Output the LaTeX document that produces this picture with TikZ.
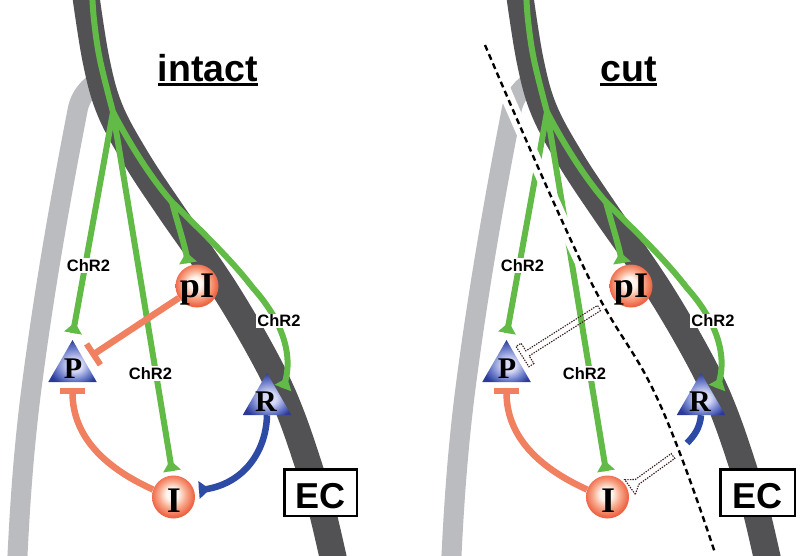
\documentclass[tikz,border=0pt]{standalone}
\usepackage{fontspec}
\setmainfont{Liberation Serif}
\newfontfamily\sansfam{Liberation Sans}
\usetikzlibrary{arrows.meta,shapes.geometric}
\definecolor{cgreen}{RGB}{98,187,70}
\definecolor{cdark}{RGB}{82,82,85}
\definecolor{cgray}{RGB}{187,188,192}
\definecolor{corange}{RGB}{240,128,96}
\definecolor{cblue}{RGB}{45,75,165}
\definecolor{cghost}{RGB}{60,30,30}
\definecolor{sphA}{RGB}{255,246,240}
\definecolor{sphB}{RGB}{247,168,138}
\definecolor{sphC}{RGB}{238,100,68}
\definecolor{triA}{RGB}{215,218,246}
\definecolor{triB}{RGB}{115,130,205}
\definecolor{triC}{RGB}{42,58,150}
\pgfdeclareradialshading{orangeball}{\pgfpoint{-2bp}{4bp}}{color(0bp)=(sphA); color(7bp)=(sphA); color(16bp)=(sphB); color(25bp)=(sphC); color(50bp)=(sphC)}
\pgfdeclareradialshading{bluetri}{\pgfpoint{3bp}{-6bp}}{color(0bp)=(triA); color(7bp)=(triA); color(18bp)=(triB); color(28bp)=(triC); color(50bp)=(triC)}
\newcommand{\ttlfnt}{\sansfam\bfseries\fontsize{37.5}{40}\selectfont}
\newcommand{\chrfnt}{\sansfam\bfseries\fontsize{16.5}{18}\selectfont}
\newcommand{\ecfnt}{\sansfam\bfseries\fontsize{36}{38}\selectfont}
\newcommand{\sphfnt}{\bfseries\fontsize{36}{38}\selectfont}
\newcommand{\trifnt}{\bfseries\fontsize{30}{32}\selectfont}
% flared synapse tip: flat side at the end point, narrowing back along the line
\newcommand{\tipmark}[3]{\begin{scope}[shift={(#1)},rotate=#2]\fill[#3] (0,9) -- (0,-9) -- (-11,0) -- cycle;\end{scope}}
\begin{document}
\begin{tikzpicture}[x=1pt,y=-1pt,
 darktract/.style={draw=cdark,line width=27pt},
 graytract/.style={draw=cgray,line width=20pt},
 gline/.style={draw=cgreen,line width=6pt},
 inh/.style={draw=corange,line width=6.5pt,-{Bar[width=25pt,line width=6pt]}},
 bline/.style={draw=cblue,line width=6.5pt},
 lab/.style={font=\chrfnt,fill=white,inner sep=1pt},
 sph/.style={circle,minimum size=43pt,inner sep=0pt,shade,shading=orangeball},
 tri/.style={regular polygon,regular polygon sides=3,minimum size=56pt,inner sep=0pt,shade,shading=bluetri},
 lett/.style={anchor=base,inner sep=0pt},
 ecbox/.style={draw=black,line width=2.5pt,fill=white,inner sep=0pt,minimum height=46.5pt},
 ghostline/.style={draw=cghost,line width=1.1pt,dash pattern=on 1.4pt off 1.2pt},
 ttl/.style={font=\ttlfnt,anchor=base,inner sep=0pt},
 ul/.style={line width=2.8pt},
 band/.style={draw=white,line width=13pt},
 cutline/.style={draw=black,line width=2.4pt,dash pattern=on 6pt off 4pt}
]
\useasboundingbox[fill=white] (0,0) rectangle (800,556);

% ================= LEFT PANEL: intact =================
\draw[graytract] (100,80) .. controls (88,87) and (81,96) .. (78,108) .. controls (66,170) and (45,280) .. (30,400) .. controls (24,450) and (20,500) .. (17,566);
\draw[darktract] plot[smooth,tension=0.6] coordinates {(85,-10) (96,60) (110,110) (137,160) (170,210) (198,250) (225,290) (252,335) (276,380) (293,420) (310,470) (322,510) (335,566)};

\coordinate (brA) at (113,112);
\coordinate (spA) at (172,202);
\coordinate (c1A) at (253,288);
\coordinate (tPA) at (73,333);
\coordinate (tIA) at (172,471);
\coordinate (tpIA) at (188,263);
\coordinate (tRA) at (283,388);
\draw[gline] plot[smooth,tension=0.6] coordinates {(92,-10) (94,20) (100,60) (113,112)};
\draw[gline] (brA) -- (tPA);
\draw[gline] (brA) -- (tIA);
\draw[gline] (spA) .. controls (178,225) and (185,245) .. (tpIA);
\draw[gline] (brA) .. controls (125,135) and (148,175) .. (spA) .. controls (200,230) and (230,258) .. (c1A) .. controls (280,318) and (296,355) .. (tRA);
\tipmark{tPA}{-100.3}{cgreen}
\tipmark{tIA}{-80.7}{cgreen}
\tipmark{tpIA}{-80.5}{cgreen}
\tipmark{tRA}{-111.5}{cgreen}

\node[sph] (pIA) at (197,286) {};
\node[sph] (IA) at (173.5,497) {};
\node[tri] (PA) at (72.5,368) {};
\node[tri] (RA) at (267,401) {};

\coordinate (barPA) at (91,356);
\coordinate (botPA) at (72.5,388);
\coordinate (arrIA) at (199,490);
\draw[inh] (pIA) -- (barPA);
\draw[inh] (IA.160) .. controls (110,470) and (72.5,440) .. (botPA);
\draw[bline] (RA.south) .. controls (266,455) and (240,487) .. (arrIA);
\tipmark{arrIA}{184.2}{cblue}

\node[lett,font=\sphfnt] (pItA) at (197,297.5) {pI};
\node[lett,font=\sphfnt] (ItA) at (174,512) {I};
\node[lett,font=\trifnt] (PtA) at (73,378) {P};
\node[lett,font=\trifnt] (RtA) at (266,411.5) {R};

\node[lab] (L1A) at (88.5,265.5) {ChR2};
\node[lab] (L2A) at (150.5,373.5) {ChR2};
\node[lab] (L3A) at (279,321) {ChR2};

\node[ecbox,minimum width=72.5pt] (ECA) at (320.5,492.5) {};
\node[lett,font=\ecfnt] (ECtA) at (320.5,508) {EC};

\node[ttl] (ttlA) at (208,82) {intact};
\coordinate (ulA) at (0,84.7);
\draw[ul] (ttlA.west |- ulA) -- (ttlA.east |- ulA);

% ================= RIGHT PANEL: cut =================
\begin{scope}[shift={(434,0)}]
\draw[graytract] (100,80) .. controls (88,87) and (81,96) .. (78,108) .. controls (66,170) and (45,280) .. (30,400) .. controls (24,450) and (20,500) .. (17,566);
\draw[darktract] plot[smooth,tension=0.6] coordinates {(85,-10) (96,60) (110,110) (137,160) (170,210) (198,250) (225,290) (252,335) (276,380) (293,420) (310,470) (322,510) (335,566)};

\coordinate (brB) at (113,112);
\coordinate (spB) at (172,202);
\coordinate (c1B) at (253,288);
\coordinate (tPB) at (73,333);
\coordinate (tIB) at (172,471);
\coordinate (tpIB) at (188,263);
\coordinate (tRB) at (283,388);
\draw[gline] plot[smooth,tension=0.6] coordinates {(92,-10) (94,20) (100,60) (113,112)};
\draw[gline] (brB) -- (tPB);
\draw[gline] (brB) -- (tIB);
\draw[gline] (spB) .. controls (178,225) and (185,245) .. (tpIB);
\draw[gline] (brB) .. controls (125,135) and (148,175) .. (spB) .. controls (200,230) and (230,258) .. (c1B) .. controls (280,318) and (296,355) .. (tRB);
\tipmark{tPB}{-100.3}{cgreen}
\tipmark{tIB}{-80.7}{cgreen}
\tipmark{tpIB}{-80.5}{cgreen}
\tipmark{tRB}{-111.5}{cgreen}

% the cut
\draw[band] plot[smooth,tension=0.7] coordinates {(51,45) (151,270) (224,400) (281,553)};
\draw[cutline] plot[smooth,tension=0.7] coordinates {(51,45) (151,270) (224,400) (281,553)};

\node[sph] (pIB) at (197,286) {};
\node[sph] (IB) at (173.5,497) {};
\node[tri] (PB) at (72.5,368) {};
\node[tri] (RB) at (267,401) {};

\coordinate (botPB) at (72.5,388);
\coordinate (bcutB) at (253,443);
\draw[inh] (IB.160) .. controls (110,470) and (72.5,440) .. (botPB);
\draw[bline] (RB.south) .. controls (266,428) and (260,436) .. (bcutB);

% lost connections (dotted outlines)
\begin{scope}[shift={(91,355)},rotate=32.4]
\path[ghostline] (87.7,3) -- (3,3) -- (3,12) -- (-3,12) -- (-3,-12) -- (3,-12) -- (3,-3) -- (87.7,-3) -- cycle;
\end{scope}
\begin{scope}[shift={(196,487)},rotate=35.8]
\path[ghostline] (0,9) -- (8.7,3) -- (53,3) -- (53,-3) -- (8.7,-3) -- (0,-9) -- cycle;
\end{scope}

\node[lett,font=\sphfnt] (pItB) at (197,297.5) {pI};
\node[lett,font=\sphfnt] (ItB) at (174,512) {I};
\node[lett,font=\trifnt] (PtB) at (73,378) {P};
\node[lett,font=\trifnt] (RtB) at (266,411.5) {R};

\node[lab] (L1B) at (88.5,265.5) {ChR2};
\node[lab] (L2B) at (150.5,373.5) {ChR2};
\node[lab] (L3B) at (279,321) {ChR2};

\node[ecbox,minimum width=74.5pt] (ECB) at (323.5,492.5) {};
\node[lett,font=\ecfnt] (ECtB) at (323.5,508) {EC};

\node[ttl] (ttlB) at (194.5,82) {cut};
\coordinate (ulB) at (0,84.7);
\draw[ul] (ttlB.west |- ulB) -- (ttlB.east |- ulB);
\end{scope}
\end{tikzpicture}
\end{document}
